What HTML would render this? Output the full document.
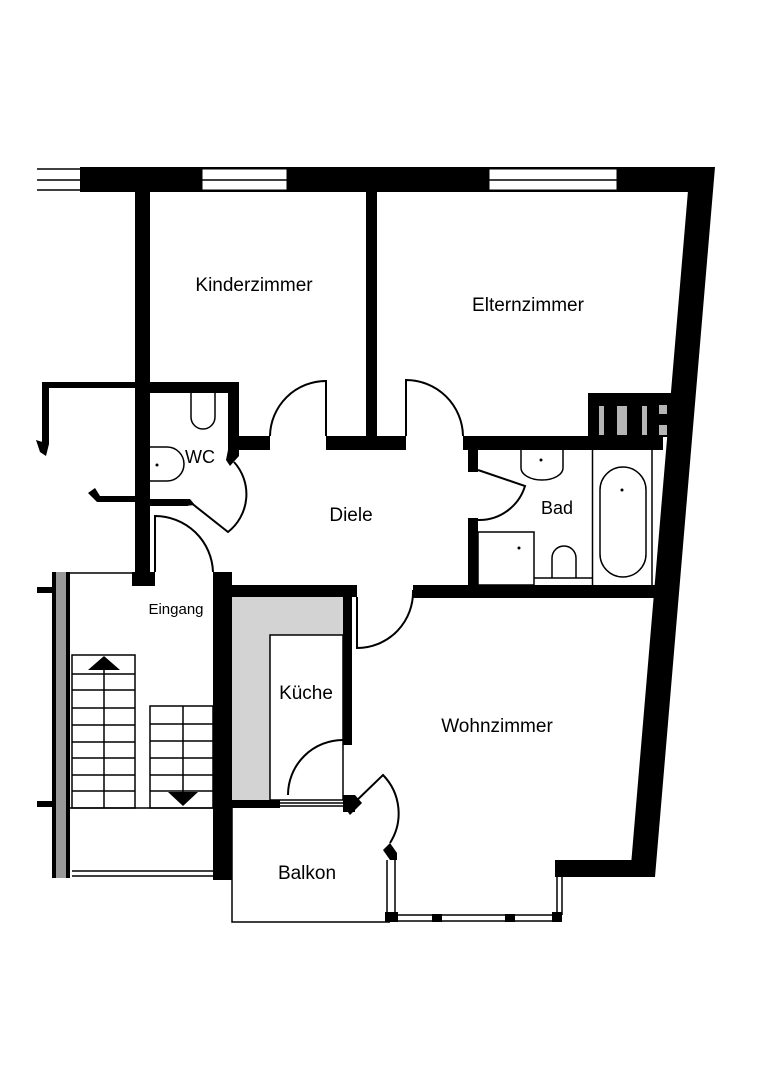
<!DOCTYPE html>
<html><head><meta charset="utf-8"><style>
html,body{margin:0;padding:0;background:#fff}
svg{display:block}
text{font-family:"Liberation Sans",sans-serif;fill:#000}
</style></head><body>
<svg width="764" height="1080" viewBox="0 0 764 1080" xmlns="http://www.w3.org/2000/svg">
<rect width="764" height="1080" fill="#fff"/>
<!-- top wall -->
<rect x="80" y="167" width="620" height="25" fill="#000"/>
<polygon points="690,167 715,167 655,877 630,877" fill="#000"/>
<!-- top-left window lines -->
<g fill="none" stroke="#000" stroke-width="1.5">
<line x1="37" y1="169" x2="80" y2="169"/><line x1="37" y1="180" x2="80" y2="180"/><line x1="37" y1="190" x2="80" y2="190"/>
</g>
<!-- windows in top wall -->
<rect x="202" y="169" width="85" height="21" fill="#fff" stroke="#000" stroke-width="1"/>
<line x1="202" y1="180" x2="287" y2="180" stroke="#000" stroke-width="1.5"/>
<rect x="489" y="169" width="128" height="21" fill="#fff" stroke="#000" stroke-width="1"/>
<line x1="489" y1="180" x2="617" y2="180" stroke="#000" stroke-width="1.5"/>
<g fill="#000">
<!-- Kinderzimmer left wall -->
<rect x="135" y="192" width="15" height="382"/>
<rect x="132" y="572" width="23" height="14"/>
<!-- wall between Kinder/Eltern -->
<rect x="366" y="192" width="11" height="246"/>
<!-- WC box -->
<rect x="150" y="382" width="89" height="11"/>
<rect x="228" y="382" width="11" height="68"/>
<rect x="228" y="436" width="42" height="14"/>
<polygon points="228,450 239,450 239,456 230,466 226,460"/>
<rect x="326" y="436" width="80" height="14"/>
<rect x="463" y="436" width="200" height="14"/>
<!-- chimney -->
<rect x="588" y="393" width="85" height="44"/>
<!-- WC bottom wall -->
<rect x="150" y="499" width="38" height="7"/>
<polygon points="185,499 190,499 195,505 185,506"/>
<!-- outside left thin walls -->
<rect x="42" y="382" width="93" height="6"/>
<rect x="42" y="382" width="7" height="62"/>
<polygon points="36,440 49,444 46,456 40,452"/>
<polygon points="88,493 95,488 100,496 135,496 135,502 97,502"/>
<!-- wall right of stairs -->
<rect x="213" y="572" width="19" height="308"/>
<!-- kitchen walls -->
<rect x="232" y="585" width="125" height="12"/>
<rect x="343" y="597" width="9" height="148"/>
<rect x="232" y="800" width="48" height="8"/>
<rect x="343" y="795" width="12" height="17"/>
<polygon points="343,805 355,795 362,803 350,815"/>
<!-- Wohnzimmer/Bad top wall -->
<rect x="413" y="585" width="245" height="13"/>
<!-- Bad left wall -->
<rect x="468" y="450" width="10" height="22"/>
<rect x="468" y="518" width="10" height="70"/>
<!-- bottom right block -->
<rect x="555" y="860" width="97" height="17"/>
<polygon points="383,850 390,843 397,853 397,860 390,860"/>
<rect x="385" y="912" width="13" height="10"/>
<rect x="432" y="914" width="10" height="8"/>
<rect x="505" y="914" width="10" height="8"/>
<rect x="552" y="912" width="10" height="10"/>
<!-- stair left/right small -->
<rect x="37" y="587" width="15" height="6"/>
<rect x="37" y="801" width="15" height="6"/>
</g>
<!-- chimney slots -->
<g fill="#b5b5b5">
<rect x="599" y="406" width="5" height="29"/>
<rect x="617" y="406" width="10" height="29"/>
<rect x="642" y="406" width="5" height="29"/>
<rect x="659" y="405" width="8" height="9"/>
<rect x="659" y="425" width="8" height="10"/>
</g>
<!-- kitchen gray counter -->
<polygon points="232,597 343,597 343,635 270,635 270,800 232,800" fill="#d3d3d3"/>
<g fill="none" stroke="#000" stroke-width="1.5">
<rect x="270" y="635" width="73" height="165"/>
<line x1="280" y1="803" x2="343" y2="803"/>
<line x1="280" y1="806" x2="343" y2="806"/>
</g>
<!-- stairwell -->
<rect x="52" y="572" width="18" height="306" fill="#999"/>
<rect x="52" y="572" width="4" height="306" fill="#000"/>
<rect x="66" y="572" width="4" height="306" fill="#000"/>
<g fill="none" stroke="#000" stroke-width="1.5">
<line x1="70" y1="573" x2="132" y2="573"/>
<rect x="72" y="655" width="63" height="153"/>
<line x1="104" y1="670" x2="104" y2="808"/>
<line x1="72" y1="674" x2="135" y2="674"/>
<line x1="72" y1="690" x2="135" y2="690"/>
<line x1="72" y1="708" x2="135" y2="708"/>
<line x1="72" y1="725" x2="135" y2="725"/>
<line x1="72" y1="742" x2="135" y2="742"/>
<line x1="72" y1="758" x2="135" y2="758"/>
<line x1="72" y1="775" x2="135" y2="775"/>
<line x1="72" y1="791" x2="135" y2="791"/>
<rect x="150" y="706" width="63" height="102"/>
<line x1="183" y1="706" x2="183" y2="792"/>
<line x1="150" y1="724" x2="213" y2="724"/>
<line x1="150" y1="741" x2="213" y2="741"/>
<line x1="150" y1="758" x2="213" y2="758"/>
<line x1="150" y1="775" x2="213" y2="775"/>
<line x1="150" y1="791" x2="213" y2="791"/>
<line x1="70" y1="808" x2="213" y2="808"/>
<line x1="72" y1="871" x2="213" y2="871"/>
<line x1="72" y1="876" x2="213" y2="876"/>
</g>
<polygon points="104,656 88,670 120,670" fill="#000"/>
<polygon points="168,792 198,792 183,806" fill="#000"/>
<!-- doors -->
<g fill="none" stroke="#000" stroke-width="2">
<path d="M270,436 A56,56 0 0 1 326,381 L326,436"/>
<path d="M406,436 L406,380 A57,57 0 0 1 463,436"/>
<path d="M190,502 L228,532 A48,48 0 0 0 234,462"/>
<path d="M155,572 L155,516 A58,58 0 0 1 213,572"/>
<path d="M357,597 L357,648 A56,56 0 0 0 413,590"/>
<path d="M288,795 A55,55 0 0 1 343,740"/>
<path d="M352,805 L383,775 A55,55 0 0 1 390,843"/>
<path d="M478,470 L525,486 A48,48 0 0 1 478,520"/>
</g>
<!-- WC fixtures -->
<g fill="none" stroke="#000" stroke-width="1.5">
<path d="M191,393 L191,417 A12,12 0 0 0 215,417 L215,393"/>
<path d="M150,447 L167,447 A17,17 0 0 1 167,481 L150,481"/>
</g>
<circle cx="157" cy="465" r="1.5" fill="#000"/>
<!-- Bad fixtures -->
<g fill="none" stroke="#000" stroke-width="1.5">
<path d="M521,450 L521,468 A21,12 0 0 0 563,468 L563,450"/>
<line x1="592.5" y1="450" x2="592.5" y2="585"/>
<line x1="652" y1="450" x2="652" y2="585"/>
<rect x="600" y="467" width="46" height="110" rx="23"/>
<rect x="478" y="532" width="56" height="53"/>
<line x1="534" y1="578" x2="592" y2="578"/>
<path d="M552,578 L552,558 A12,12 0 0 1 576,558 L576,578"/>
</g>
<circle cx="541" cy="460" r="1.5" fill="#000"/>
<circle cx="622" cy="490" r="1.5" fill="#000"/>
<circle cx="519" cy="548" r="1.5" fill="#000"/>
<!-- Balkon and bay -->
<g fill="none" stroke="#000" stroke-width="1.5">
<polyline points="232,808 232,922 390,922"/>
<line x1="387" y1="860" x2="387" y2="915"/>
<line x1="395" y1="860" x2="395" y2="915"/>
<line x1="390" y1="915" x2="560" y2="915"/>
<line x1="390" y1="921" x2="560" y2="921"/>
<line x1="557" y1="877" x2="557" y2="915"/>
<line x1="562" y1="877" x2="562" y2="915"/>
</g>
<!-- labels -->
<text x="254" y="291" font-size="19" text-anchor="middle">Kinderzimmer</text>
<text x="528" y="311" font-size="19" text-anchor="middle">Elternzimmer</text>
<text x="200" y="463" font-size="18" text-anchor="middle">WC</text>
<text x="351" y="521" font-size="19" text-anchor="middle">Diele</text>
<text x="557" y="514" font-size="18" text-anchor="middle">Bad</text>
<text x="176" y="614" font-size="15" text-anchor="middle">Eingang</text>
<text x="306" y="699" font-size="19" text-anchor="middle">Küche</text>
<text x="497" y="732" font-size="19" text-anchor="middle">Wohnzimmer</text>
<text x="307" y="879" font-size="19" text-anchor="middle">Balkon</text>
</svg>
</body></html>
